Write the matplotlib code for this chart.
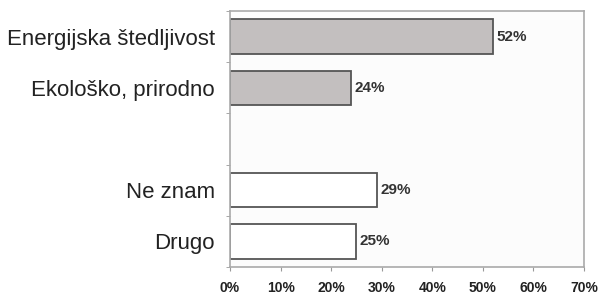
import numpy as np
import matplotlib.pyplot as plt
from matplotlib.ticker import FixedLocator

plt.rcParams['font.family'] = ['Liberation Sans', 'DejaVu Sans']

categories = ["Energijska štedljivost", "Ekološko, prirodno", "", "Ne znam", "Drugo"]
values     = [52, 24, None, 29, 25]
colors     = ["#c3bfbf", "#c3bfbf", None, "white", "white"]
xticks     = [0, 10, 20, 30, 40, 50, 60, 70]

fig = plt.figure(figsize=(6, 2.98), dpi=100)
ax = fig.add_axes([230 / 600, 31 / 298, 354 / 600, 256 / 298])
ax.set_facecolor("#fcfcfc")

ypos = np.arange(len(categories))
for y, v, c in zip(ypos, values, colors):
    if v is None:
        continue
    ax.barh(y, v, height=0.67, color=c, edgecolor="#555555", linewidth=1.3)
    ax.text(v + 0.7, y, "%d%%" % v, va="center", ha="left",
            fontsize=11, fontweight="bold", color="#333333")

ax.set_xlim(0, 70)
ax.set_ylim(len(categories) - 0.5, -0.5)
ax.set_xticks(xticks)
ax.set_xticklabels(["%d%%" % t for t in xticks], fontsize=10, fontweight="bold", color="#222222")
ax.set_yticks(ypos)
ax.set_yticklabels(categories, fontsize=16, color="#222222")
ax.tick_params(axis="y", length=0, pad=11)
ax.tick_params(axis="x", length=3, color="#999999", pad=7)
ax.yaxis.set_minor_locator(FixedLocator(np.arange(-0.5, len(categories), 1)))
ax.tick_params(axis="y", which="minor", length=3, color="#999999")

for s in ax.spines.values():
    s.set_color("#aaaaaa")
    s.set_linewidth(1.2)

fig.savefig("out.png", dpi=100)
